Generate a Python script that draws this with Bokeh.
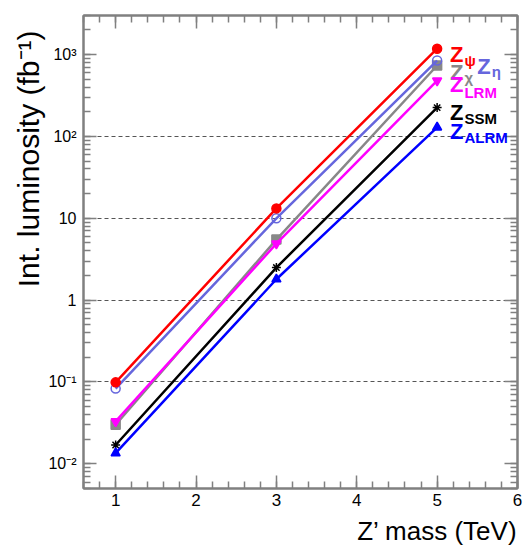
from bokeh.plotting import figure
from bokeh.models import (LogAxis, LinearAxis, SingleIntervalTicker, LogTicker, FixedTicker,
                          CustomJSTickFormatter, CustomLabelingPolicy, Title, Label, Range1d)
from bokeh.embed import file_html
from bokeh.resources import INLINE

# ---- data ----
mass = [1, 3, 5]
lumi_psi = [0.099, 13.2, 1180]
lumi_eta = [0.083, 10.0, 845]
lumi_chi = [0.030, 5.5, 735]
lumi_lrm = [0.033, 4.9, 480]
lumi_ssm = [0.017, 2.5, 225]
lumi_alrm = [0.0135, 1.8, 129]
grid_values = [0.1, 1, 10, 100]

FONT = "Liberation Sans"
AXC = "#808080"

p = figure(width=524, height=553, y_axis_type="log",
           x_range=Range1d(0.6, 6.0), y_range=Range1d(0.005, 3000),
           output_backend="svg", toolbar_location=None,
           min_border_left=83, min_border_right=7, min_border_top=15, min_border_bottom=65)
p.background_fill_color = "white"
p.border_fill_color = "white"
p.outline_line_color = AXC
p.outline_line_width = 2

# grid
p.xgrid.visible = False
p.ygrid.ticker = FixedTicker(ticks=grid_values)
p.ygrid.grid_line_color = "#555555"
p.ygrid.grid_line_dash = "4 3"
p.ygrid.grid_line_width = 1

no_labels = CustomLabelingPolicy(code="""
for (const i of indices) indices.unset(i)
return indices
""")

def style_axis(ax, labels=True):
    ax.axis_line_color = AXC
    ax.axis_line_width = 2
    ax.major_tick_line_color = AXC
    ax.minor_tick_line_color = AXC
    ax.major_tick_line_width = 1.5
    ax.minor_tick_line_width = 1.5
    ax.major_tick_in = 13
    ax.major_tick_out = 0
    ax.minor_tick_in = 7
    ax.minor_tick_out = 0
    ax.major_label_text_font = FONT
    if labels:
        ax.major_label_text_font_size = "17px"
        ax.major_label_text_color = "black"
    else:
        ax.major_label_text_font_size = "2px"
        ax.major_label_standoff = 0
        ax.major_label_policy = no_labels

p.xaxis.ticker = SingleIntervalTicker(interval=1, num_minor_ticks=5)
style_axis(p.xaxis[0])
p.xaxis.major_label_standoff = 5

p.yaxis.ticker = LogTicker(num_minor_ticks=10)
style_axis(p.yaxis[0])
p.yaxis.major_label_text_font_size = "16px"
p.yaxis.major_label_standoff = 7
p.yaxis.formatter = CustomJSTickFormatter(code="""
const e = Math.round(Math.log10(tick));
if (e == 0) return "1";
if (e == 1) return "10";
const sup = {"-":"\\u207b","0":"\\u2070","1":"\\u00b9","2":"\\u00b2","3":"\\u00b3","4":"\\u2074","5":"\\u2075","6":"\\u2076","7":"\\u2077","8":"\\u2078","9":"\\u2079"};
return "10" + String(e).split("").map(c => sup[c]).join("");
""")

top_ax = LinearAxis(ticker=SingleIntervalTicker(interval=1, num_minor_ticks=5))
style_axis(top_ax, labels=False)
p.add_layout(top_ax, "above")
right_ax = LogAxis(ticker=LogTicker(num_minor_ticks=10))
style_axis(right_ax, labels=False)
p.add_layout(right_ax, "right")

# titles
p.add_layout(Title(text="Z\u2019 mass (TeV)", align="right", text_font=FONT, text_color="black",
                   text_font_size="26px", text_font_style="normal", standoff=11), "below")
p.add_layout(Title(text="Int. luminosity (fb\u207b\u00b9)", align="right", text_font=FONT,
                   text_color="black", text_font_size="30px", text_font_style="normal",
                   offset=15, standoff=1), "left")

# series
series = [
    (lumi_chi, "#888888", "square", "#888888"),
    (lumi_lrm, "#ff00ff", "inverted_triangle", "#ff00ff"),
    (lumi_ssm, "black", "asterisk", "black"),
    (lumi_alrm, "#0000ff", "triangle", "#0000ff"),
    (lumi_eta, "#6666dd", "circle", None),
    (lumi_psi, "#ff0000", "circle", "#ff0000"),
]
for ys, col, mk, fill in series:
    p.line(mass, ys, line_color=col, line_width=2.5)
    p.scatter(mass, ys, marker=mk, size=9, line_color=col, fill_color=fill, line_width=1.5)

# curve labels: (main text, subscript, colour, x, y_main, x_sub, y_sub)
labels = [
    ("Z", "\u03c8", "#ff0000", 5.16, 1000, 5.34, 850),
    ("Z", "\u03c7", "#888888", 5.16, 610, 5.34, 520),
    ("Z", "\u03b7", "#6666dd", 5.50, 720, 5.68, 620),
    ("Z", "LRM", "#ff00ff", 5.16, 430, 5.34, 345),
    ("Z", "SSM", "black", 5.16, 195, 5.34, 165),
    ("Z", "ALRM", "#0000ff", 5.16, 115, 5.34, 97),
]
for main, sub, col, x0, y0, x1, y1 in labels:
    p.add_layout(Label(x=x0, y=y0, text=main, text_color=col, text_font=FONT,
                       text_font_size="22px", text_font_style="bold", text_baseline="alphabetic"))
    p.add_layout(Label(x=x1, y=y1, text=sub, text_color=col, text_font=FONT,
                       text_font_size="15px", text_font_style="bold", text_baseline="alphabetic"))

open("out.html", "w").write(file_html(p, INLINE))
